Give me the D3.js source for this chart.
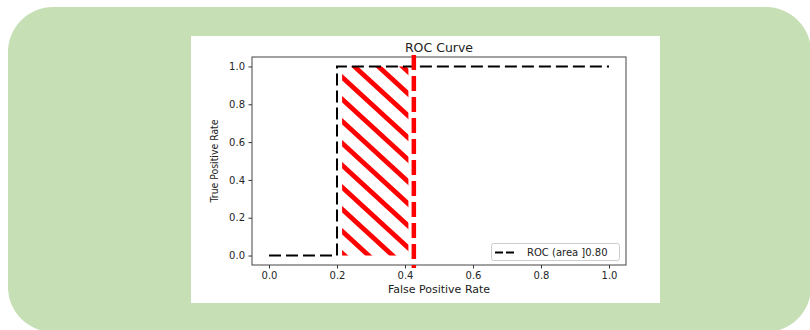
<!DOCTYPE html>
<html><head><meta charset="utf-8">
<script src="https://cdn.jsdelivr.net/npm/d3@7"></script>
<style>body{margin:0;background:#fff}svg{display:block}text{font-family:"DejaVu Sans",sans-serif}</style>
</head><body>
<script>
// Data
const fpr = [0, 0.2, 0.2, 1.0];
const tpr = [0, 0, 1, 1];
const hatchX = [0.215, 0.41];
const hatchY = [0, 1];
const threshold = [0.426];
const xTicks = [0.0, 0.2, 0.4, 0.6, 0.8, 1.0];
const yTicks = [0.0, 0.2, 0.4, 0.6, 0.8, 1.0];
const title = "ROC Curve";
const xLabel = "False Positive Rate";
const yLabel = "True Positive Rate";
const legendLabel = "ROC (area ]0.80";

const W = 810, H = 330;
const svg = d3.select("body").append("svg").attr("width", W).attr("height", H);

// background card
svg.append("rect").attr("x", 8).attr("y", 7).attr("width", 803).attr("height", 325)
  .attr("rx", 45).attr("ry", 45).attr("fill", "#c6dfb5");
svg.append("rect").attr("x", 191).attr("y", 36).attr("width", 469).attr("height", 267).attr("fill", "#fff");

const L = 252, R = 626, T = 57, B = 265;
const x = d3.scaleLinear().domain([-0.05, 1.05]).range([L, R]);
const y = d3.scaleLinear().domain([-0.05, 1.05]).range([B, T]);

// hatch pattern
const pw = 24, ph = 22;
const defs = svg.append("defs");
const pat = defs.append("pattern").attr("id", "hatch").attr("patternUnits", "userSpaceOnUse")
  .attr("width", pw).attr("height", ph).attr("x", 343).attr("y", 78);
let dPath = "";
for (let k = -3; k <= 3; k++) {
  dPath += `M${-2 * pw + k * pw},${-2 * ph} L${3 * pw + k * pw},${3 * ph} `;
}
pat.append("path").attr("d", dPath)
  .attr("stroke", "#ff0000").attr("stroke-width", 4.8).attr("fill", "none");
svg.append("rect")
  .attr("x", x(hatchX[0])).attr("y", y(hatchY[1]))
  .attr("width", x(hatchX[1]) - x(hatchX[0])).attr("height", y(hatchY[0]) - y(hatchY[1]))
  .attr("fill", "url(#hatch)");

// ROC line
const line = d3.line().x((d, i) => x(d)).y((d, i) => y(tpr[i]));
svg.append("path").datum(fpr).attr("d", line).attr("fill", "none")
  .attr("stroke", "#000").attr("stroke-width", 2).attr("stroke-dasharray", "12,5");

// axes
const gx = svg.append("g").attr("transform", `translate(0,${B})`)
  .call(d3.axisBottom(x).tickValues(xTicks).tickFormat(d3.format(".1f")).tickSize(3.5).tickPadding(3));
const gy = svg.append("g").attr("transform", `translate(${L},0)`)
  .call(d3.axisLeft(y).tickValues(yTicks).tickFormat(d3.format(".1f")).tickSize(3.5).tickPadding(3.5));
[gx, gy].forEach(g => {
  g.select(".domain").remove();
  g.selectAll("line").attr("stroke", "#333");
  g.selectAll("text").attr("font-size", 10).attr("fill", "#262626").attr("font-family", "DejaVu Sans");
});
svg.append("rect").attr("x", L).attr("y", T).attr("width", R - L).attr("height", B - T)
  .attr("fill", "none").attr("stroke", "#444").attr("stroke-width", 1);

// threshold line (drawn over axes)
svg.selectAll(".thr").data(threshold).enter().append("line")
  .attr("x1", d => x(d)).attr("x2", d => x(d)).attr("y1", 55).attr("y2", 268)
  .attr("stroke", "#ff0000").attr("stroke-width", 4.5).attr("stroke-dasharray", "15,6");

// title & labels
svg.append("text").attr("x", (L + R) / 2).attr("y", 52).attr("text-anchor", "middle")
  .attr("font-size", 12.5).attr("fill", "#222").text(title);
svg.append("text").attr("x", (L + R) / 2).attr("y", 293).attr("text-anchor", "middle")
  .attr("font-size", 11).attr("fill", "#222").text(xLabel);
svg.append("text").attr("transform", `translate(218,${(T + B) / 2}) rotate(-90)`)
  .attr("text-anchor", "middle").attr("font-size", 11).attr("fill", "#222")
  .attr("textLength", 83).attr("lengthAdjust", "spacingAndGlyphs").text(yLabel);

// legend
const lg = svg.append("g");
lg.append("rect").attr("x", 491.5).attr("y", 243.5).attr("width", 128).attr("height", 17)
  .attr("rx", 2).attr("fill", "#fff").attr("stroke", "#ccc").attr("stroke-width", 1);
lg.append("line").attr("x1", 495).attr("x2", 516).attr("y1", 252.5).attr("y2", 252.5)
  .attr("stroke", "#000").attr("stroke-width", 2).attr("stroke-dasharray", "8,3");
lg.append("text").attr("x", 527).attr("y", 256).attr("font-size", 10).attr("fill", "#222").text(legendLabel);
</script>
</body></html>
